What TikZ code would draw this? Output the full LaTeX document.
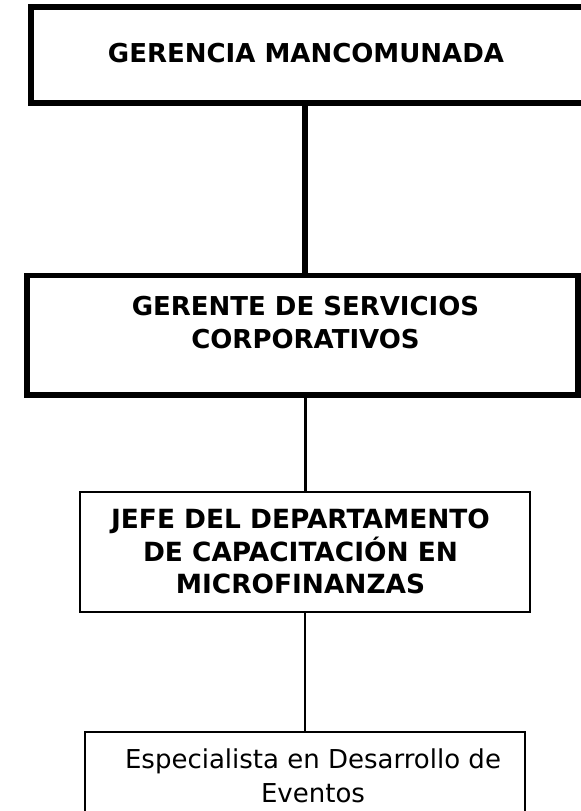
\documentclass[tikz,border=0pt]{standalone}
\usepackage{fontspec}
\setmainfont{DejaVu Sans}
\begin{document}
\begin{tikzpicture}[x=0.75pt,y=-0.75pt,
  boxA/.style={draw=black,fill=white,inner sep=0pt,outer sep=0pt,line width=4.5pt},
  boxB/.style={draw=black,fill=white,inner sep=0pt,outer sep=0pt,line width=4.1pt},
  boxC/.style={draw=black,fill=white,inner sep=0pt,outer sep=0pt,line width=1.9pt},
  boxD/.style={draw=black,fill=white,inner sep=0pt,outer sep=0pt,line width=0.8pt},
  lbl/.style={inner sep=0pt,outer sep=0pt,align=center,anchor=north,font=\bfseries\fontsize{19.5}{24.6}\selectfont},
  lblr/.style={inner sep=0pt,outer sep=0pt,align=center,anchor=north,font=\fontsize{19.5}{25.5}\selectfont}]
\useasboundingbox (0,0) rectangle (581,811);
% boxes
\node[boxA,minimum width=419.25pt,minimum height=72pt] (b1) at (310.5,55) {};
\node[boxB,minimum width=413.25pt,minimum height=89.6pt] (b2) at (302.5,335.25) {};
\node[boxC,minimum width=337.5pt,minimum height=90pt] (b3) at (305,552) {};
\node[boxD,minimum width=330pt,minimum height=73.5pt] (b4) at (305,781) {};
% connectors
\draw[line width=4.5pt] (b1.south -| b3.north) -- (b2.north -| b3.north);
\draw[line width=2.25pt] (b2.south -| b3.north) -- (b3.north);
\draw[line width=1.3pt] (b3.south) -- (b4.north);
% texts
\node[lbl] (t1) at (306,43) {GERENCIA MANCOMUNADA};
\node[lbl,font=\bfseries\fontsize{19.5}{24.75}\selectfont] (t2) at (305.5,296) {GERENTE DE SERVICIOS\\CORPORATIVOS};
\node[lbl,font=\bfseries\fontsize{19.8}{24.4}\selectfont] (t3) at (300.5,509) {JEFE DEL DEPARTAMENTO\\DE CAPACITACIÓN EN\\MICROFINANZAS};
\node[lblr] (t4) at (313,749) {Especialista en Desarrollo de\\Eventos};
\end{tikzpicture}
\end{document}
